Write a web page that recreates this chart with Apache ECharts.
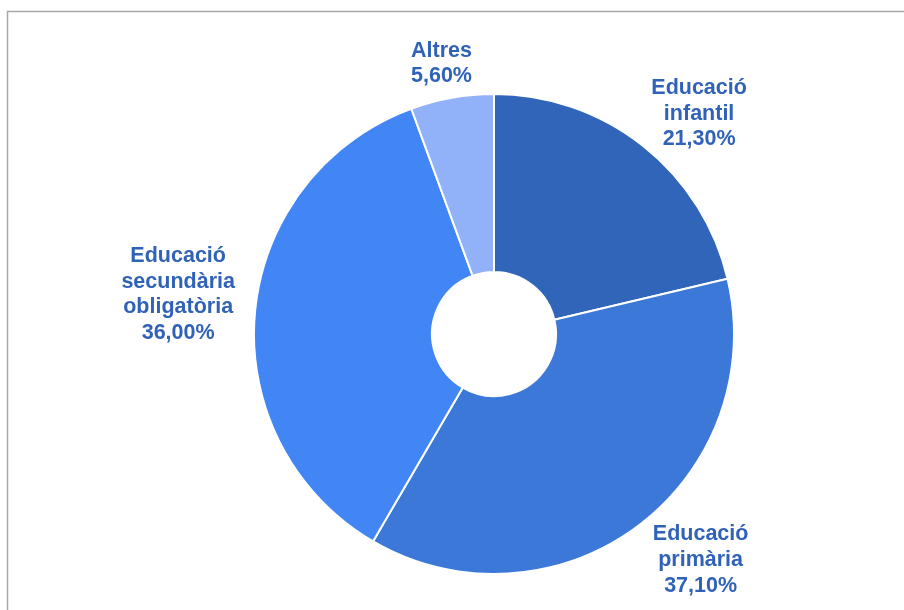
<!DOCTYPE html>
<html>
<head>
<meta charset="utf-8">
<script src="https://cdn.jsdelivr.net/npm/echarts@6/dist/echarts.min.js"></script>
<style>
  html, body { margin: 0; padding: 0; background: #ffffff; }
  #chart { width: 904px; height: 610px; }
</style>
</head>
<body>
<div id="chart"></div>
<script>
// Distribution by education stage (percent)
const categories = ['Educació\ninfantil', 'Educació\nprimària', 'Educació\nsecundària\nobligatòria', 'Altres'];
const shares = [21.3, 37.1, 36.0, 5.6];
const shareLabels = ['21,30%', '37,10%', '36,00%', '5,60%'];

const sliceColors = ['#3065ba', '#3b78d8', '#4285f4', '#91b1f8'];
// Small per-label nudges (px) so each block sits clear of the ring
const labelNudge = [[14, 15], [23, -15], [-12, -13], [5, 25]];

const chart = echarts.init(document.getElementById('chart'), null, { renderer: 'canvas' });

chart.setOption({
  animation: false,
  backgroundColor: '#ffffff',
  graphic: [{
    type: 'rect',
    silent: true,
    shape: { x: 7.5, y: 11.5, width: 1200, height: 1200 },
    style: { fill: 'none', stroke: '#a9a9a9', lineWidth: 1.5 }
  }],
  series: [{
    type: 'pie',
    center: [494, 334],
    radius: [62, 240],
    startAngle: 90,
    clockwise: true,
    avoidLabelOverlap: false,
    itemStyle: { borderColor: '#ffffff', borderWidth: 2 },
    label: {
      show: true,
      position: 'outside',
      color: '#3063b8',
      fontFamily: '"Liberation Sans", Arial, sans-serif',
      fontWeight: 'bold',
      fontSize: 21.5,
      lineHeight: 25.7,
      formatter: function (p) { return p.name + '\n' + shareLabels[p.dataIndex]; }
    },
    labelLine: { show: false, length: 60, length2: 0 },
    labelLayout: function (p) {
      const n = labelNudge[p.dataIndex];
      return { align: 'center', verticalAlign: 'middle', dx: n[0], dy: n[1] };
    },
    emphasis: { disabled: true },
    data: categories.map(function (c, i) {
      return { name: c, value: shares[i], itemStyle: { color: sliceColors[i] } };
    })
  }]
});
</script>
</body>
</html>
